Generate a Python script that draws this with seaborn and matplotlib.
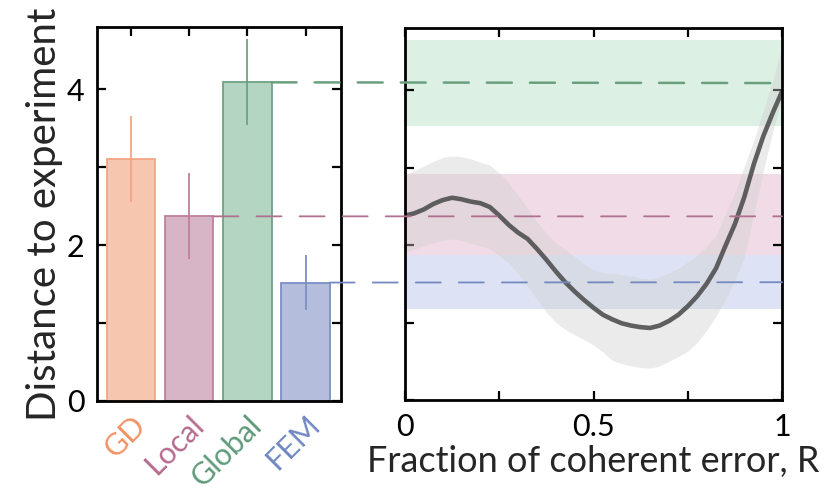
import numpy as np
import pandas as pd
import matplotlib
matplotlib.use("Agg")
import matplotlib.pyplot as plt
import seaborn as sns
from matplotlib.patches import ConnectionPatch

# Model comparison: distance to experiment per model
models = ["GD", "Local", "Global", "FEM"]
distance = [3.11, 2.37, 4.09, 1.52]
distance_err = [0.55, 0.55, 0.55, 0.35]

fill_colors = ["#f6c7ae", "#d8b4c7", "#b4d5c1", "#b4bedc"]
edge_colors = ["#f2a585", "#bf7f9e", "#70a084", "#7b90c6"]
label_colors = ["#f09467", "#b46a8e", "#5f9a79", "#6f88c2"]
band_colors = [None, "#f1dbe6", "#dcf0e3", "#dde3f4"]

# Mixture model: distance as a function of coherent-error fraction R
frac_R = [0.000, 0.025, 0.050, 0.075, 0.100, 0.125, 0.150, 0.175, 0.200, 0.225,
          0.250, 0.275, 0.300, 0.325, 0.350, 0.375, 0.400, 0.425, 0.450, 0.475,
          0.500, 0.525, 0.550, 0.575, 0.600, 0.625, 0.650, 0.675, 0.700, 0.725,
          0.750, 0.775, 0.800, 0.825, 0.850, 0.875, 0.900, 0.925, 0.950, 0.975,
          1.000]
mix_dist = [2.38, 2.41, 2.46, 2.53, 2.58, 2.61, 2.59, 2.56, 2.54, 2.49,
            2.38, 2.26, 2.16, 2.08, 1.95, 1.81, 1.66, 1.52, 1.40, 1.29,
            1.19, 1.10, 1.04, 0.99, 0.96, 0.94, 0.93, 0.96, 1.02, 1.10,
            1.21, 1.34, 1.50, 1.70, 1.99, 2.27, 2.62, 3.04, 3.40, 3.70,
            3.98]
mix_upper = [2.90, 2.96, 3.02, 3.08, 3.13, 3.15, 3.14, 3.11, 3.07, 3.03,
             2.93, 2.80, 2.64, 2.47, 2.30, 2.15, 2.03, 1.94, 1.85, 1.76,
             1.68, 1.64, 1.64, 1.62, 1.60, 1.57, 1.56, 1.59, 1.64, 1.70,
             1.78, 1.87, 1.98, 2.12, 2.40, 2.68, 3.02, 3.35, 3.73, 4.12,
             4.55]
mix_lower = [1.91, 1.95, 1.99, 2.03, 2.06, 2.08, 2.06, 2.02, 1.99, 1.95,
             1.86, 1.77, 1.63, 1.47, 1.30, 1.13, 1.00, 0.91, 0.84, 0.78,
             0.71, 0.62, 0.51, 0.47, 0.44, 0.42, 0.41, 0.44, 0.50, 0.56,
             0.63, 0.74, 0.90, 1.08, 1.30, 1.55, 1.84, 2.40, 2.95, 3.45,
             3.90]

sns.set_theme(style="white")
plt.rcParams["font.family"] = ["Lato", "DejaVu Sans"]

fig = plt.figure(figsize=(8.37, 4.91), dpi=100)
ax1 = fig.add_axes([0.1159, 0.1833, 0.2915, 0.7617])
ax2 = fig.add_axes([0.4839, 0.1853, 0.4504, 0.7576])

df = pd.DataFrame({"model": models, "distance": distance})
bar_width = 0.83
sns.barplot(data=df, x="model", y="distance", hue="model", palette=fill_colors,
            saturation=1, legend=False, errorbar=None, width=bar_width, ax=ax1)
for patch, ec in zip(ax1.patches, edge_colors):
    patch.set_edgecolor(ec)
    patch.set_linewidth(1.3)
for i, (v, e, ec) in enumerate(zip(distance, distance_err, edge_colors)):
    ax1.errorbar(i, v, yerr=e, fmt="none", ecolor=ec, elinewidth=1.3, capsize=0)

ax1.set_xlim(-0.59, 3.61)
ax1.set_ylim(0, 4.8)
ax1.set_yticks([0, 1, 2, 3, 4])
ax1.set_yticklabels(["0", "", "2", "", "4"])
ax1.set_xticks(range(len(models)))
ax1.set_xticklabels(models)
ax1.set_xlabel("")
ax1.set_ylabel("Distance to experiment", fontsize=29, labelpad=3)

# Right panel: reference bands for the non-GD models and the mixture curve
for v, e, bc in zip(distance, distance_err, band_colors):
    if bc is not None:
        ax2.axhspan(v - e, v + e, color=bc, lw=0, zorder=0)
ax2.fill_between(frac_R, mix_lower, mix_upper, color="#cfcfcf", alpha=0.4,
                 lw=0, zorder=1)
sns.lineplot(x=frac_R, y=mix_dist, color="#505050", lw=3.3, alpha=0.9,
             ax=ax2, zorder=2)
ax2.set_xlim(0, 1)
ax2.set_ylim(0, 4.8)
ax2.set_xticks([0, 0.25, 0.5, 0.75, 1])
ax2.set_xticklabels(["0", "", "0.5", "", "1"])
ax2.set_yticks([0, 1, 2, 3, 4])
ax2.set_yticklabels([])
ax2.set_xlabel("Fraction of coherent error, R", fontsize=26, labelpad=3)

for ax in (ax1, ax2):
    for sp in ax.spines.values():
        sp.set_visible(True)
        sp.set_color("black")
        sp.set_linewidth(2.0)
    ax.tick_params(direction="in", length=6.5, width=1.6, top=True, right=True,
                   bottom=True, left=True, labelsize=22, pad=9, colors="black")
    ax.grid(False)

for lbl, c in zip(ax1.get_xticklabels(), label_colors):
    lbl.set_color(c)
    lbl.set_rotation(45)
    lbl.set_ha("right")
    lbl.set_va("top")
    lbl.set_rotation_mode("anchor")
    lbl.set_fontsize(22)
ax1.tick_params(axis="x", pad=7)

# Dashed guides from each bar top across to the right edge of the curve panel
dash_colors = {1: "#b0708f", 2: "#6aa07f", 3: "#7389c0"}
dash_widths = {1: 1.3, 2: 1.8, 3: 1.3}
for i, c in dash_colors.items():
    lw = dash_widths[i]
    con = ConnectionPatch(xyA=(i + bar_width / 2, distance[i]), coordsA=ax1.transData,
                          xyB=(1.0, distance[i]), coordsB=ax2.transData,
                          color=c, lw=lw, linestyle=(0, (18 / lw, 13 / lw)))
    con.set_zorder(5)
    fig.add_artist(con)

fig.savefig("out.png", dpi=100)
